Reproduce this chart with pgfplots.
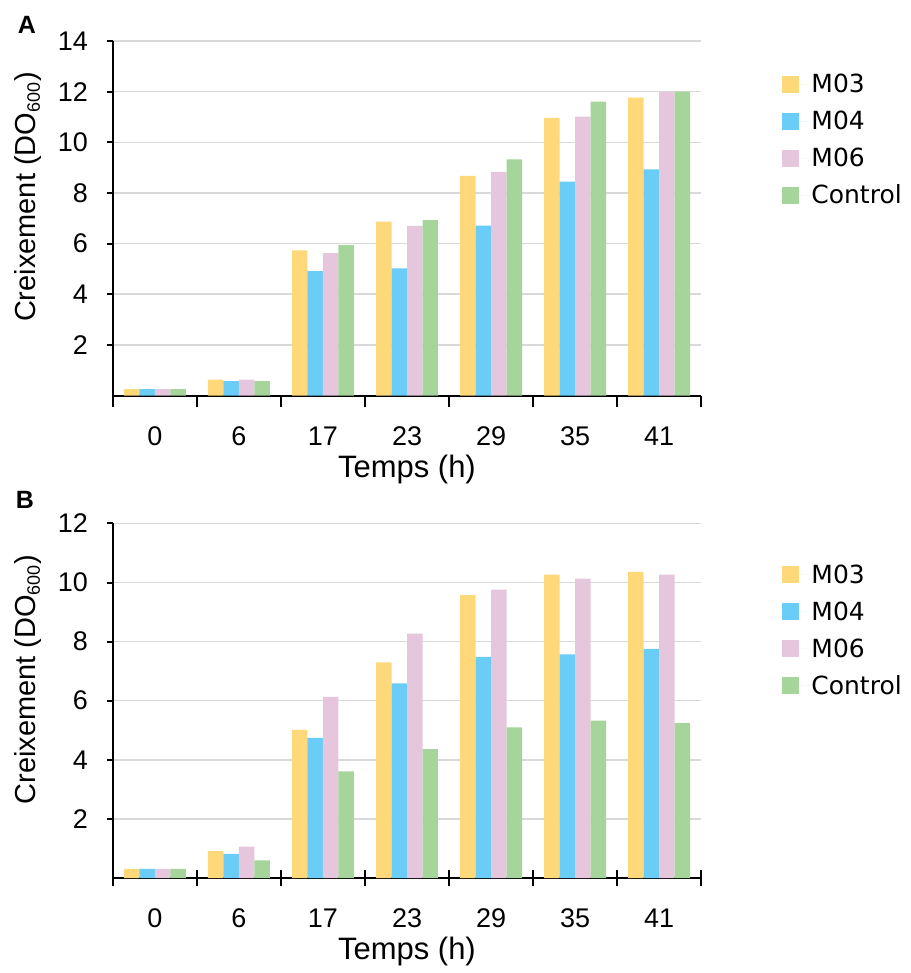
\documentclass[border=0pt]{standalone}
\usepackage{fontspec}
\setmainfont{Liberation Sans}
\newfontfamily\legfont{DejaVu Sans}
\usepackage{pgfplots}
\usepackage{pgfplotstable}
\pgfplotsset{compat=1.18}

\definecolor{cM03}{HTML}{FFD87A}
\definecolor{cM04}{HTML}{6ACDF8}
\definecolor{cM06}{HTML}{E6C6DC}
\definecolor{cCtl}{HTML}{A5D59B}
\definecolor{gridgray}{HTML}{D9D9D9}

% temps index: 0=0h 1=6h 2=17h 3=23h 4=29h 5=35h 6=41h
\pgfplotstableread{
t  M03   M04  M06   Ctrl
0  0.25  0.25 0.25  0.25
1  0.63  0.57 0.63  0.57
2  5.73  4.91 5.62  5.94
3  6.87  5.02 6.70  6.93
4  8.67  6.71 8.83  9.32
5  10.96 8.45 11.01 11.60
6  11.76 8.93 12.00 12.00
}\dataA

\pgfplotstableread{
t  M03   M04  M06   Ctrl
0  0.31  0.31 0.31  0.31
1  0.91  0.82 1.06  0.60
2  5.01  4.74 6.13  3.61
3  7.30  6.59 8.27  4.36
4  9.57  7.48 9.76  5.10
5  10.27 7.57 10.13 5.33
6  10.36 7.75 10.27 5.24
}\dataB

\pgfplotsset{
  panel/.style={
    scale only axis, width=294.5pt, height=177.5pt,
    ybar=0pt, bar width=7.75pt,
    xmin=-0.5, xmax=6.5, ymin=0, enlargelimits=false,
    axis x line*=bottom, axis y line*=left,
    axis line style={-, line width=1pt},
    xtick={0,...,6}, xticklabels={0,6,17,23,29,35,41},
    major x tick style={draw=none},
    minor xtick={-0.5,0.5,...,6.5},
    minor tick length=5.5pt,
    minor x tick style={draw=black, line width=1pt},
    major tick length=3pt,
    major y tick style={draw=black, line width=1pt},
    tick align=outside,
    ymajorgrids, major grid style={draw=gridgray, line width=0.75pt},
    /pgf/number format/assume math mode=true,
    tick label style={font=\fontsize{13.5}{15}\selectfont},
    xticklabel style={yshift=-9pt},
    yticklabel style={xshift=-6pt},
    every axis x label/.style={at={(axis description cs:0.5,0)}, anchor=center,
      yshift=-37pt, font=\fontsize{15.5}{18}\selectfont},
    every axis y label/.style={at={(axis description cs:-0.144,0.56)}, anchor=center,
      rotate=90, font=\fontsize{14.5}{17}\selectfont},
    xlabel={Temps (h)},
    ylabel={Creixement (DO\textsubscript{\fontsize{9}{10}\selectfont 600})},
    legend cell align=left,
    legend image code/.code={
      \fill[#1] (0pt,-4.25pt) rectangle (8.5pt,4.25pt);
      \path (0pt,0pt) -- (14.5pt,0pt);
    },
    legend style={draw=none, fill=none, inner sep=0pt, row sep=10pt,
      font=\legfont\fontsize{12.5}{14}\selectfont,
      nodes={inner sep=0pt, text height=8.5pt, text depth=0pt},
      anchor=north west, at={(axis description cs:1,1)}, xshift=40.5pt},
  }
}

\begin{document}
\begin{tikzpicture}
\path (-56.5pt,20.5pt) rectangle (399.5pt,-466pt);

\begin{axis}[panel, name=pa, at={(0pt,0pt)}, anchor=north west,
    ymax=14, ytick={2,4,...,14},
    legend style={yshift=-17.25pt}]
  \addplot[fill=cM03, draw=none] table[x=t, y=M03] {\dataA};
  \addplot[fill=cM04, draw=none] table[x=t, y=M04] {\dataA};
  \addplot[fill=cM06, draw=none] table[x=t, y=M06] {\dataA};
  \addplot[fill=cCtl, draw=none] table[x=t, y=Ctrl] {\dataA};
  \legend{M03,M04,M06,Control}
\end{axis}

\begin{axis}[panel, name=pb, at={(0pt,-241.5pt)}, anchor=north west,
    ymax=12, ytick={2,4,...,12},
    minor tick length=8.5pt, minor x tick style={draw=black, line width=1pt, /pgfplots/tick align=center},
    legend style={yshift=-21.25pt}]
  \addplot[fill=cM03, draw=none] table[x=t, y=M03] {\dataB};
  \addplot[fill=cM04, draw=none] table[x=t, y=M04] {\dataB};
  \addplot[fill=cM06, draw=none] table[x=t, y=M06] {\dataB};
  \addplot[fill=cCtl, draw=none] table[x=t, y=Ctrl] {\dataB};
  \legend{M03,M04,M06,Control}
\end{axis}

\node[font=\bfseries\fontsize{12.5}{14}\selectfont] at ([xshift=-43pt, yshift=8pt]pa.north west) {A};
\node[font=\bfseries\fontsize{12.5}{14}\selectfont] at ([xshift=-44pt, yshift=12pt]pb.north west) {B};
\end{tikzpicture}
\end{document}
